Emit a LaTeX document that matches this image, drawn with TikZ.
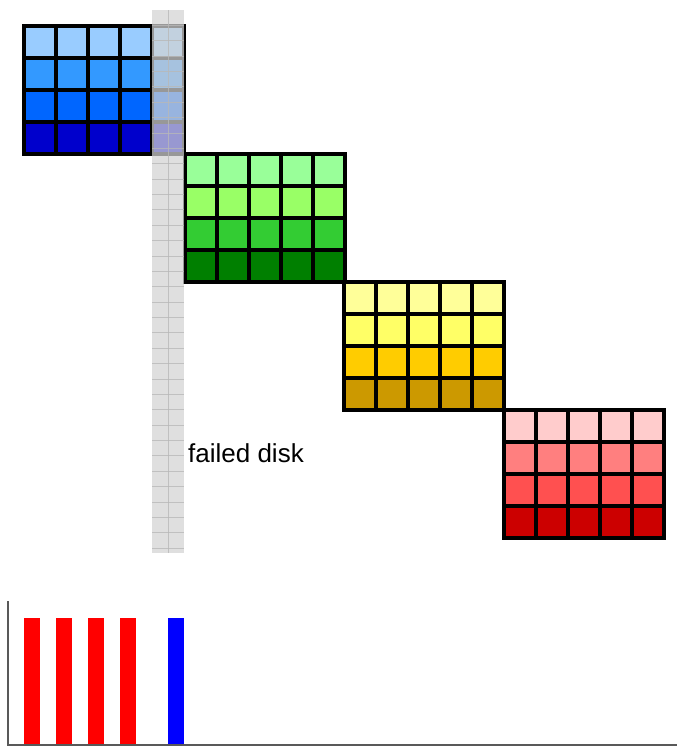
\documentclass[tikz,border=0pt]{standalone}
\usepackage{fontspec}
\setmainfont{Liberation Sans}
\usetikzlibrary{positioning}
\definecolor{BlueA}{HTML}{99CCFF}
\definecolor{BlueB}{HTML}{3399FF}
\definecolor{BlueC}{HTML}{0066FF}
\definecolor{BlueD}{HTML}{0000CC}
\definecolor{GreenA}{HTML}{99FF99}
\definecolor{GreenB}{HTML}{99FF66}
\definecolor{GreenC}{HTML}{33CC33}
\definecolor{GreenD}{HTML}{007F00}
\definecolor{GoldA}{HTML}{FFFF99}
\definecolor{GoldB}{HTML}{FFFF66}
\definecolor{GoldC}{HTML}{FFCC00}
\definecolor{GoldD}{HTML}{CC9900}
\definecolor{RedA}{HTML}{FFCCCC}
\definecolor{RedB}{HTML}{FF7F7F}
\definecolor{RedC}{HTML}{FF5050}
\definecolor{RedD}{HTML}{CC0000}
\definecolor{StripGray}{HTML}{D3D3D3}
\definecolor{GridGray}{HTML}{B8B8B8}
\definecolor{AxisGray}{HTML}{595959}

\begin{document}
\begin{tikzpicture}[x=1pt, y=-1pt,
    cell/.style={line width=0pt},
    bar/.style={line width=0pt}]
    \useasboundingbox (0,0) rectangle (677,747);
    % stripes of the four groups, 5 disks each
    \foreach \bx/\by/\ca/\cb/\cc/\cd in {22/24/BlueA/BlueB/BlueC/BlueD, 183/152/GreenA/GreenB/GreenC/GreenD, 342/280/GoldA/GoldB/GoldC/GoldD, 502/408/RedA/RedB/RedC/RedD} {
        \fill[black] (\bx,\by) rectangle ++(164,132);
        \foreach \c [count=\r from 0] in {\ca,\cb,\cc,\cd}
            \foreach \k in {0,...,4}
                \fill[\c, cell] (\bx+4+32*\k, \by+4+32*\r) rectangle ++(28,28);
    }
    % failed disk column
    \fill[StripGray, opacity=0.72] (152,10) rectangle (184,553);
    \draw[GridGray, opacity=0.8, line width=0.8pt] (168,10) -- (168,553);
    \foreach \i in {1,...,35}
        \draw[GridGray, opacity=0.8, line width=0.8pt] (152,10+15.375*\i) -- (184,10+15.375*\i);
    \node[anchor=base west, inner sep=0, font=\fontsize{26}{30}\selectfont] (failed) at (188,462) {failed disk};
    % load per disk
    \foreach \x in {24,56,88,120}
        \fill[red, bar] (\x,618) rectangle ++(16,127);
    \fill[blue, bar] (168,618) rectangle ++(16,127);
    \draw[AxisGray, line width=2.5pt] (8,601) -- (8,745) -- (677,745);
\end{tikzpicture}
\end{document}
